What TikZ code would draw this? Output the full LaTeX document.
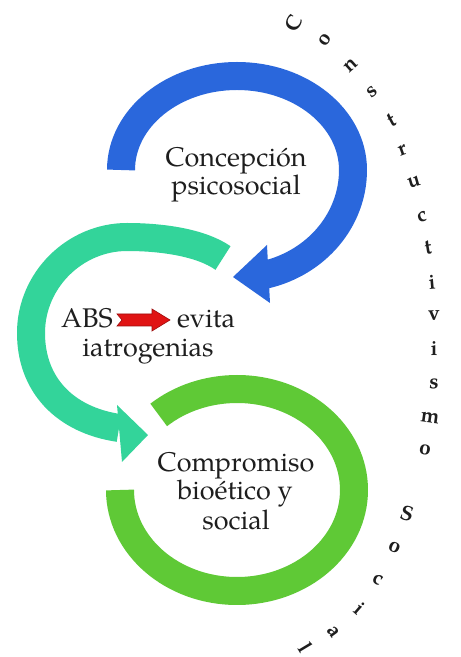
\documentclass[tikz,border=0pt]{standalone}
\usepackage{fontspec}
\setmainfont{TeX Gyre Pagella}
\definecolor{arcblue}{HTML}{2A67DC}
\definecolor{arcteal}{HTML}{33D49A}
\definecolor{arcgreen}{HTML}{5FC936}
\definecolor{arrowred}{HTML}{E01414}
\definecolor{inkdark}{HTML}{1E1E1E}
\begin{document}
\begin{tikzpicture}[x=1pt,y=1pt,
  band/.style={line width=28pt, line cap=butt, line join=round},
  bodytext/.style={font=\fontsize{27}{30}\selectfont, text=inkdark, inner sep=0pt},
  arcletter/.style={font=\bfseries\fontsize{21}{21}\selectfont, text=inkdark, inner sep=0pt}]
\useasboundingbox (0,0) rectangle (461,657);
\fill[white] (0,0) rectangle (461,657);

% green ring, open at the upper left
\draw[band, arcgreen] (120,167) arc[start angle=180, end angle=492, x radius=117, y radius=101];

% teal circular arrow
\draw[band, arcteal] (223,399) .. controls (200,415) and (160,420) .. (127,420)
  .. controls (75,420) and (31,377) .. (31,324)
  .. controls (31,272) and (65,237) .. (119,229);
\fill[arcteal] (117,252) -- (148,222) -- (122,195) -- cycle;

% blue circular arrow
\draw[band, arcblue] (121,487)
  arc[start angle=180, end angle=0, x radius=116, y radius=94]
  arc[start angle=0, end angle=-76, x radius=116, y radius=108];
\fill[arcblue] (267,412) -- (233,380) -- (270,354) -- cycle;

% texts inside the rings
\node[bodytext, anchor=base] (c1) at (236,490) {Concepción};
\node[bodytext, anchor=base] (c2) at (236,462) {psicosocial};
\node[bodytext, anchor=base east] (abs) at (113,329) {ABS};
\node[bodytext, anchor=base west] (evita) at (177,329) {evita};
\node[bodytext, anchor=base] (iat) at (148,300) {iatrogenias};
\node[bodytext, anchor=base] (comp) at (236,185) {Compromiso};
\node[bodytext, anchor=base] (bio) at (235,157) {bioético y};
\node[bodytext, anchor=base] (soc) at (236,127) {social};

% small red arrow between ABS and evita
\filldraw[fill=arrowred, draw=arrowred!70!black, line width=0.6pt]
  (117,343) -- (152,343) -- (152,348) -- (170,337) -- (152,326) -- (152,331)
  -- (117,331) -- (122,337) -- cycle;

% letters set along the right-hand curve
\foreach \ch/\x/\y/\r [count=\k] in {
  C/294/24/63, o/325/40/54, n/351/66/42, s/372/92/37, t/392/120/28,
  r/403/150/20, u/414/182/16, c/422/217/12, t/428/248/9, i/432/282/5,
  v/434/316/2, i/434/349/0, s/434/384/-3, m/430/418/-8, o/425/450/-11,
  S/407/514/-17, o/395/548/-24, c/378/580/-30, i/360/609/-41,
  a/333/632/-54, l/306/648/-59}
  \node[arcletter, rotate=\r] (ch\k) at (\x,{657-\y}) {\ch};
\end{tikzpicture}
\end{document}
